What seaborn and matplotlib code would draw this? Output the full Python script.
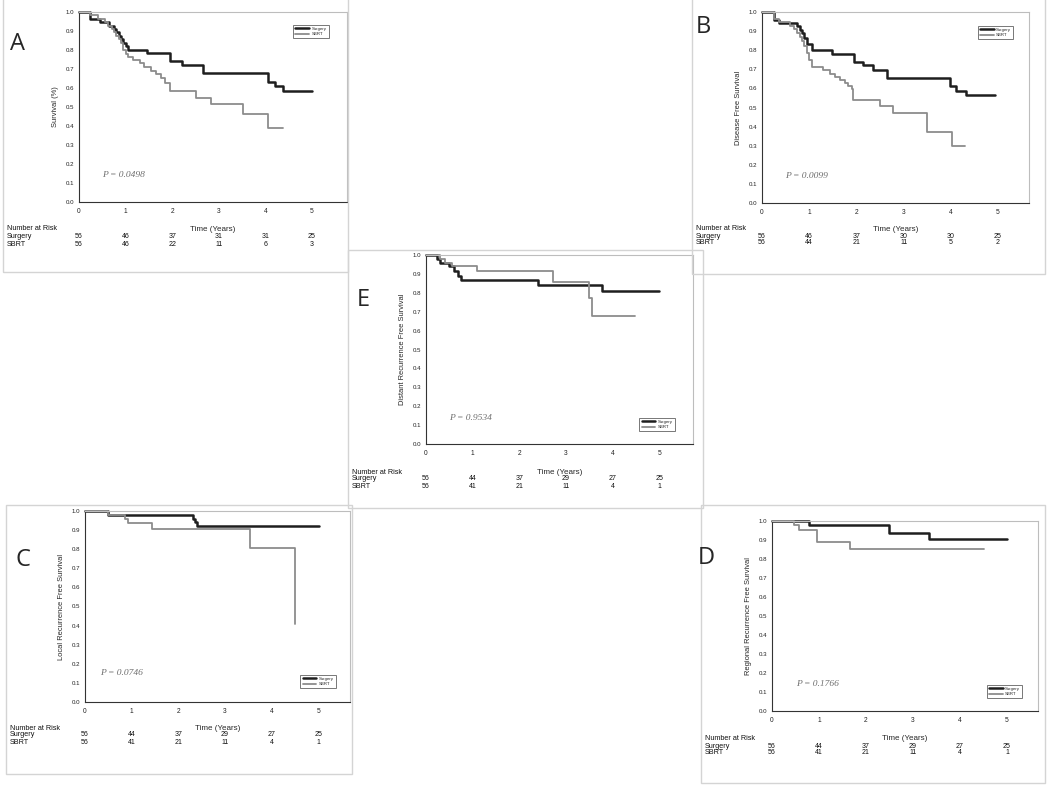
import numpy as np
import pandas as pd
import matplotlib
matplotlib.use("Agg")
import matplotlib.pyplot as plt
import seaborn as sns
from matplotlib.transforms import blended_transform_factory
from matplotlib.patches import Rectangle

groups = ["Surgery", "SBRT"]
years = [0, 1, 2, 3, 4, 5]

# A - overall survival
a_surg_t = [0, 0.24, 0.45, 0.65, 0.75, 0.80, 0.85, 0.90, 0.95, 1.00, 1.06, 1.45, 1.95, 2.20, 2.67, 4.05, 4.20, 4.38, 4.99]
a_surg_s = [1.0, 0.964, 0.946, 0.928, 0.91, 0.893, 0.875, 0.857, 0.839, 0.821, 0.80, 0.783, 0.742, 0.721, 0.677, 0.633, 0.612, 0.584, 0.584]
a_sbrt_t = [0, 0.24, 0.40, 0.55, 0.62, 0.70, 0.75, 0.80, 0.85, 0.90, 0.95, 1.00, 1.05, 1.15, 1.30, 1.40, 1.55, 1.65, 1.75, 1.85, 1.95, 2.52, 2.84, 3.52, 4.06, 4.38]
a_sbrt_s = [1.0, 0.982, 0.964, 0.946, 0.928, 0.91, 0.893, 0.875, 0.857, 0.839, 0.80, 0.78, 0.762, 0.747, 0.73, 0.712, 0.69, 0.672, 0.654, 0.625, 0.586, 0.549, 0.514, 0.461, 0.389, 0.389]
a_risk_surg = [56, 46, 37, 31, 31, 25]
a_risk_sbrt = [56, 46, 22, 11, 6, 3]

# B - disease free survival
b_surg_t = [0, 0.25, 0.35, 0.74, 0.80, 0.85, 0.90, 0.95, 1.06, 1.48, 1.94, 2.15, 2.36, 2.64, 3.98, 4.12, 4.33, 4.93]
b_surg_s = [1.0, 0.958, 0.944, 0.925, 0.905, 0.888, 0.865, 0.835, 0.80, 0.782, 0.739, 0.721, 0.695, 0.654, 0.611, 0.589, 0.563, 0.563]
b_sbrt_t = [0, 0.25, 0.35, 0.60, 0.68, 0.75, 0.80, 0.85, 0.90, 0.95, 1.00, 1.06, 1.30, 1.45, 1.55, 1.65, 1.75, 1.82, 1.90, 1.93, 2.50, 2.78, 3.49, 4.02, 4.30]
b_sbrt_s = [1.0, 0.964, 0.946, 0.928, 0.91, 0.89, 0.87, 0.85, 0.82, 0.785, 0.75, 0.712, 0.695, 0.677, 0.66, 0.645, 0.63, 0.615, 0.599, 0.537, 0.51, 0.47, 0.374, 0.30, 0.30]
b_risk_surg = [56, 46, 37, 30, 30, 25]
b_risk_sbrt = [56, 44, 21, 11, 5, 2]

# E - distant recurrence free survival
e_surg_t = [0, 0.24, 0.30, 0.50, 0.60, 0.68, 0.76, 2.40, 3.77, 4.98]
e_surg_s = [1.0, 0.98, 0.958, 0.94, 0.917, 0.888, 0.867, 0.84, 0.807, 0.807]
e_sbrt_t = [0, 0.30, 0.40, 0.55, 1.10, 2.73, 3.48, 3.55, 4.47]
e_sbrt_s = [1.0, 0.98, 0.958, 0.942, 0.916, 0.858, 0.774, 0.677, 0.677]

# C - local recurrence free survival
c_surg_t = [0, 0.50, 2.32, 2.36, 2.40, 5.0]
c_surg_s = [1.0, 0.977, 0.96, 0.94, 0.92, 0.92]
c_sbrt_t = [0, 0.50, 0.85, 0.93, 1.43, 3.53, 4.50, 4.50]
c_sbrt_s = [1.0, 0.977, 0.958, 0.937, 0.908, 0.806, 0.41, 0.41]

# D - regional recurrence free survival
d_surg_t = [0, 0.78, 2.48, 3.33, 5.0]
d_surg_s = [1.0, 0.977, 0.939, 0.907, 0.907]
d_sbrt_t = [0, 0.46, 0.57, 0.96, 1.65, 4.50]
d_sbrt_s = [1.0, 0.977, 0.955, 0.89, 0.855, 0.855]

late_risk_surg = [56, 44, 37, 29, 27, 25]
late_risk_sbrt = [56, 41, 21, 11, 4, 1]

W, H = 1050, 785

sns.set_style("white")
plt.rcParams["font.family"] = ["Liberation Sans", "DejaVu Sans"]

fig = plt.figure(figsize=(W / 100, H / 100), dpi=100)


def px_rect(x0, y0, x1, y1):
    return [x0 / W, 1 - y1 / H, (x1 - x0) / W, (y1 - y0) / H]


def frame(x0, y0, x1, y1):
    fig.patches.append(Rectangle((x0 / W, 1 - y1 / H), (x1 - x0) / W, (y1 - y0) / H,
                                 transform=fig.transFigure, fill=False,
                                 edgecolor="#d4d4d4", linewidth=1.0))


def km_panel(letter, box, px_year, frame_box, st, ss, bt, bs, risk_s, risk_b, ylab,
             pval, ptxt_pos, leg_loc, leg_anchor, letter_pos, ylab_x, rows_y):
    frame(*frame_box)
    x0, y0, x1, y1 = box
    ax = fig.add_axes(px_rect(x0, y0, x1, y1))
    df = pd.concat([
        pd.DataFrame({"time": st, "surv": ss, "group": "Surgery"}),
        pd.DataFrame({"time": bt, "surv": bs, "group": "SBRT"}),
    ])
    sns.lineplot(data=df, x="time", y="surv", hue="group", hue_order=groups,
                 palette={"Surgery": "#1e1e1e", "SBRT": "#8c8c8c"},
                 size="group", sizes={"Surgery": 1.8, "SBRT": 1.3},
                 drawstyle="steps-post", estimator=None, sort=False,
                 legend=False, ax=ax)
    for ln in ax.get_lines():
        ln.set_clip_on(False)
    ax.set_xlim(0, (x1 - x0) / px_year)
    ax.set_ylim(0, 1)
    ax.set_xticks(years)
    ax.set_yticks(np.arange(0, 1.01, 0.1))
    ax.set_yticklabels([f"{v:.1f}" for v in np.arange(0, 1.01, 0.1)])
    ax.tick_params(labelsize=4.4, length=2, width=0.6, pad=1.5, colors="#222")
    ax.tick_params(axis="x", labelsize=4.8, pad=2.5)
    for side in ["left", "bottom"]:
        ax.spines[side].set_color("#333")
        ax.spines[side].set_linewidth(0.8)
    for side in ["top", "right"]:
        ax.spines[side].set_color("#bdbdbd")
        ax.spines[side].set_linewidth(0.8)
    ax.set_xlabel("Time (Years)", fontsize=5.8)
    ax.xaxis.set_label_coords(0.5, -(rows_y[0] - 3 - y1) / (y1 - y0))
    ax.set_ylabel(ylab, fontsize=5.4)
    ax.yaxis.set_label_coords(ylab_x, 0.5)

    ax.text(ptxt_pos[0], ptxt_pos[1], f"P = {pval}", fontsize=6.8, style="italic",
            family=["Liberation Serif"], color="#6e6e6e", va="center")

    lines = ax.get_lines()
    leg = ax.legend(lines[:2], groups, loc=leg_loc, bbox_to_anchor=leg_anchor,
                    fontsize=3.2, frameon=True, fancybox=False, edgecolor="#555",
                    handlelength=3.0, borderpad=0.5, labelspacing=0.25,
                    handletextpad=0.6, markerfirst=True)
    leg.get_frame().set_linewidth(0.7)

    fig.text(letter_pos[0] / W, 1 - letter_pos[1] / H, letter, fontsize=17,
             family=["Open Sans", "DejaVu Sans"], ha="center", va="center")

    tr = blended_transform_factory(ax.transData, fig.transFigure)
    lx = frame_box[0] + 4
    fig.text(lx / W, 1 - rows_y[0] / H, "Number at Risk", fontsize=5.2, va="center", color="#111")
    fig.text(lx / W, 1 - rows_y[1] / H, "Surgery", fontsize=5.2, va="center", color="#111")
    fig.text(lx / W, 1 - rows_y[2] / H, "SBRT", fontsize=5.2, va="center", color="#111")
    for yr, n1, n2 in zip(years, risk_s, risk_b):
        ax.text(yr, 1 - rows_y[1] / H, str(n1), transform=tr, fontsize=5.0,
                ha="center", va="center", color="#111")
        ax.text(yr, 1 - rows_y[2] / H, str(n2), transform=tr, fontsize=5.0,
                ha="center", va="center", color="#111")
    return ax


# A
km_panel("A", (79, 12, 347, 202), 46.6, (3, -2, 348, 272),
         a_surg_t, a_surg_s, a_sbrt_t, a_sbrt_s, a_risk_surg, a_risk_sbrt,
         "Survival (%)", "0.0498", (0.49, 0.14), "upper right", (0.94, 0.945),
         (18, 44), -0.075, (229, 236, 244))
# B
km_panel("B", (762, 12, 1029, 203), 47.2, (692, -2, 1045, 274),
         b_surg_t, b_surg_s, b_sbrt_t, b_sbrt_s, b_risk_surg, b_risk_sbrt,
         "Disease Free Survival", "0.0099", (0.49, 0.14), "upper right", (0.95, 0.94),
         (703, 27), -0.075, (229, 236, 243))
# E
km_panel("E", (426, 255, 693, 444), 46.7, (348, 250, 703, 508),
         e_surg_t, e_surg_s, e_sbrt_t, e_sbrt_s, late_risk_surg, late_risk_sbrt,
         "Distant Recurrence Free Survival", "0.9534", (0.5, 0.14), "lower right", (0.94, 0.055),
         (363, 300), -0.075, (472, 479, 487))
# C
km_panel("C", (85, 511, 350, 702), 46.7, (6, 505, 352, 774),
         c_surg_t, c_surg_s, c_sbrt_t, c_sbrt_s, late_risk_surg, late_risk_sbrt,
         "Local Recurrence Free Survival", "0.0746", (0.32, 0.15), "lower right", (0.955, 0.06),
         (23, 560), -0.075, (728, 735, 743))
# D
km_panel("D", (772, 521, 1038, 711), 47.0, (701, 505, 1045, 783),
         d_surg_t, d_surg_s, d_sbrt_t, d_sbrt_s, late_risk_surg, late_risk_sbrt,
         "Regional Recurrence Free Survival", "0.1766", (0.52, 0.14), "lower right", (0.95, 0.055),
         (706, 558), -0.075, (738, 747, 753))

fig.savefig("out.png", dpi=100, facecolor="white")
